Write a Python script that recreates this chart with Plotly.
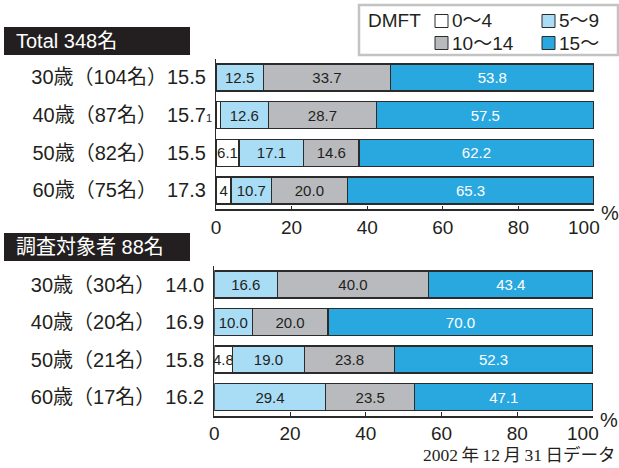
import plotly.graph_objects as go

W, H = 619, 468

# ---------------- data ----------------
classes = ["0～4", "5～9", "10～14", "15～"]

ages = ["30歳", "40歳", "50歳", "60歳"]

total_counts = [104, 87, 82, 75]
total_means = ["15.5", "15.7", "15.5", "17.3"]
total_0_4 = [0.0, 1.2, 6.1, 4.0]
total_5_9 = [12.5, 12.6, 17.1, 10.7]
total_10_14 = [33.7, 28.7, 14.6, 20.0]
total_15 = [53.8, 57.5, 62.2, 65.3]
total_0_4_labels = ["", "", "6.1", "4"]

survey_counts = [30, 20, 21, 17]
survey_means = ["14.0", "16.9", "15.8", "16.2"]
survey_0_4 = [0.0, 0.0, 4.8, 0.0]
survey_5_9 = [16.6, 10.0, 19.0, 29.4]
survey_10_14 = [40.0, 20.0, 23.8, 23.5]
survey_15 = [43.4, 70.0, 52.3, 47.1]
survey_0_4_labels = ["", "", "4.8", ""]

x_ticks = [0, 20, 40, 60, 80, 100]
x_tick_labels = ["0", "20", "40", "60", "80", "100"]

header_total = "Total 348名"
header_survey = "調査対象者 88名"
footnote = "2002\u2009年\u200912\u2009月\u200931\u2009日データ"

# ---------------- style ----------------
colors = ["#ffffff", "#a9dcf5", "#b9babd", "#29a8e0"]
text_colors = ["#231f20", "#231f20", "#231f20", "#ffffff"]
SANS = "Liberation Sans, Arial, Noto Sans CJK JP, sans-serif"
SERIF = "Liberation Serif, Noto Sans CJK JP, serif"
INK = "#231f20"


def xp(px):
    return px / W


def yp(py):
    return 1 - py / H


def cat_label(age, n, m):
    gap = "" if n >= 100 else "\u2002"
    return f"{age}（{n}名）{gap}{m}"


total_cats = [cat_label(a, n, m) for a, n, m in zip(ages, total_counts, total_means)]
survey_cats = [cat_label(a, n, m) for a, n, m in zip(ages, survey_counts, survey_means)]

# the last tick label is drawn separately (nudged left to leave room for "%")
tick_text = x_tick_labels[:-1] + [""]


def fmt(vals):
    return [f"{v:.1f}" for v in vals]


fig = go.Figure()

panels = [
    (total_cats, [total_0_4, total_5_9, total_10_14, total_15], total_0_4_labels, "x", "y"),
    (survey_cats, [survey_0_4, survey_5_9, survey_10_14, survey_15], survey_0_4_labels, "x2", "y2"),
]

for cats, series, first_labels, xa, ya in panels:
    for i, (name, vals) in enumerate(zip(classes, series)):
        texts = first_labels if i == 0 else fmt(vals)
        fig.add_trace(go.Bar(
            x=vals, y=cats, orientation="h", name=name,
            marker=dict(color=colors[i], line=dict(color="#2b2b2b", width=1.3)),
            text=texts, textposition="inside", insidetextanchor="middle",
            constraintext="none", textangle=0,
            textfont=dict(color=text_colors[i], size=15, family=SANS),
            xaxis=xa, yaxis=ya, showlegend=False, cliponaxis=False,
            hoverinfo="skip",
        ))
    # last tick label + "%" sign
    fig.add_annotation(x=x_ticks[-1], y=0, xref=xa, yref=f"{ya} domain",
                       text=x_tick_labels[-1], showarrow=False, xanchor="center",
                       yanchor="middle", xshift=-10, yshift=-18,
                       font=dict(size=19, color=INK, family=SANS))
    fig.add_annotation(x=x_ticks[-1], y=0, xref=xa, yref=f"{ya} domain",
                       text="%", showarrow=False, xanchor="center",
                       yanchor="middle", xshift=16, yshift=-4,
                       font=dict(size=20, color=INK, family=SANS))

# tiny "1" label for the 1.2 % segment (Total, 40歳)
fig.add_annotation(x=0, y=total_cats[1], xref="x", yref="y", text="1",
                   showarrow=False, xanchor="right", xshift=-2, yshift=-3,
                   font=dict(size=11, color=INK, family=SANS))

xaxis_common = dict(range=[0, 100], tickvals=x_ticks, ticktext=tick_text,
                    ticks="inside", ticklen=4,
                    tickwidth=1.2, tickcolor="#2b2b2b", showline=True, linecolor="#2b2b2b",
                    linewidth=1.6, showgrid=False, zeroline=False, fixedrange=True,
                    automargin=False,
                    tickfont=dict(size=19, color=INK, family=SANS))
yaxis_common = dict(type="category", autorange="reversed", showline=True, linecolor="#2b2b2b",
                    linewidth=1.2, showgrid=False, zeroline=False, ticks="outside",
                    ticklen=5, tickcolor="rgba(0,0,0,0)", automargin=False,
                    tickfont=dict(size=20, color=INK, family=SANS))

fig.update_layout(
    width=W, height=H, margin=dict(l=0, r=0, t=0, b=0, autoexpand=False),
    paper_bgcolor="white", plot_bgcolor="white",
    barmode="stack", bargap=0.28,
    xaxis=dict(domain=[xp(216), xp(594)], anchor="y", **xaxis_common),
    yaxis=dict(domain=[yp(209.3), yp(58.6)], anchor="x", **yaxis_common),
    xaxis2=dict(domain=[xp(214.3), xp(593)], anchor="y2", **xaxis_common),
    yaxis2=dict(domain=[yp(415.75), yp(265.75)], anchor="x2", **yaxis_common),
)

# header boxes
for (y0, y1, label) in [(27, 55, header_total), (233, 261, header_survey)]:
    fig.add_shape(type="rect", xref="paper", yref="paper", x0=xp(4), x1=xp(190),
                  y0=yp(y1), y1=yp(y0), fillcolor=INK, line=dict(width=0))
    fig.add_annotation(x=xp(14), y=yp((y0 + y1) / 2), xref="paper", yref="paper",
                       text=label, showarrow=False, xanchor="left", yanchor="middle",
                       font=dict(size=20, color="white", family=SANS))

# custom legend
fig.add_shape(type="rect", xref="paper", yref="paper", x0=xp(359), x1=xp(618),
              y0=yp(55), y1=yp(5), fillcolor="white", line=dict(color="#c3c3c3", width=2.5))
fig.add_annotation(x=xp(366), y=yp(21), xref="paper", yref="paper", text="DMFT",
                   showarrow=False, xanchor="left", yanchor="middle",
                   font=dict(size=19, color=INK, family=SANS))
legend_pos = [(435, 21), (542, 21), (435, 43), (542, 43)]
for i, (name, (lx, ly)) in enumerate(zip(classes, legend_pos)):
    fig.add_shape(type="rect", xref="paper", yref="paper", x0=xp(lx), x1=xp(lx + 13),
                  y0=yp(ly + 6.5), y1=yp(ly - 6.5), fillcolor=colors[i],
                  line=dict(color="#2b2b2b", width=1))
    fig.add_annotation(x=xp(lx + 15), y=yp(ly), xref="paper", yref="paper", text=name,
                       showarrow=False, xanchor="left", yanchor="middle",
                       font=dict(size=19, color=INK, family=SANS))

# footnote
fig.add_annotation(x=xp(421), y=yp(455), xref="paper", yref="paper", text=footnote,
                   showarrow=False, xanchor="left", yanchor="middle",
                   font=dict(size=17.5, color=INK, family=SERIF))

fig.write_html("out.html")
